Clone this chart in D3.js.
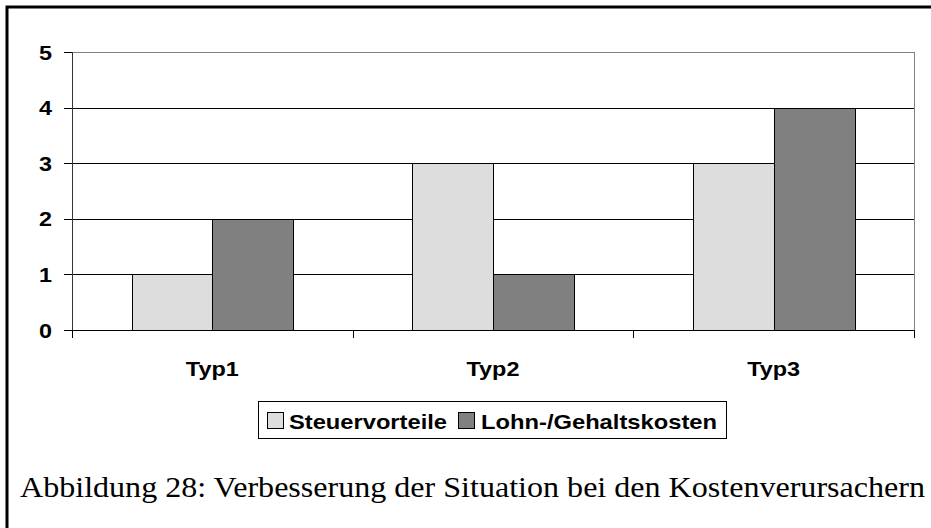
<!DOCTYPE html>
<html>
<head>
<meta charset="utf-8"/>
<title>Abbildung 28</title>
<script src="https://cdn.jsdelivr.net/npm/d3@7"></script>
<style>
	body { margin: 0; background: #fff; }
	svg text { font-family: Arial, "Liberation Sans", sans-serif; font-weight: bold; fill: #000; }
	svg text.caption { font-family: "Times New Roman", "Liberation Serif", Times, serif; font-weight: normal; }
</style>
</head>
<body>
<svg id="chart" width="931" height="528"></svg>
<script>
// chart data
var categories = ["Typ1", "Typ2", "Typ3"];
var seriesNames = ["Steuervorteile", "Lohn-/Gehaltskosten"];
var steuervorteile = [1, 3, 3];
var lohnkosten = [2, 1, 4];
var yTicks = [0, 1, 2, 3, 4, 5];
var caption = "Abbildung 28: Verbesserung der Situation bei den Kostenverursachern";

var colors = ["#dddddd", "#808080"];
var series = [steuervorteile, lohnkosten];

var svg = d3.select("#chart");

// outer frame (only top and left edges are in view)
svg.append("path")
	.attr("d", "M7,528V7H931")
	.attr("fill", "none")
	.attr("stroke", "#000")
	.attr("stroke-width", 3);

var plot = { left: 72, right: 914, top: 52, bottom: 330 };

var y = d3.scaleLinear().domain([0, 5]).range([plot.bottom, plot.top]);
var x = d3.scaleBand().domain(categories).range([plot.left, plot.right]);
var xs = d3.scaleBand().domain(d3.range(series.length)).range([0, x.bandwidth()]).paddingOuter(0.74);

// gridlines
svg.append("g").selectAll("line")
	.data(yTicks.filter(function(d) { return d > 0; }))
	.join("line")
	.attr("x1", plot.left).attr("x2", plot.right)
	.attr("y1", function(d) { return Math.round(y(d)) + 0.5; })
	.attr("y2", function(d) { return Math.round(y(d)) + 0.5; })
	.attr("stroke", function(d) { return d == 5 ? "#808080" : "#000"; });

// right border of plot area
svg.append("line")
	.attr("x1", plot.right + 0.5).attr("x2", plot.right + 0.5)
	.attr("y1", plot.top).attr("y2", plot.bottom)
	.attr("stroke", "#808080");

// bars
categories.forEach(function(c, i) {
	series.forEach(function(s, j) {
		svg.append("rect")
			.attr("x", Math.round(x(c) + xs(j)) + 0.5)
			.attr("y", Math.round(y(s[i])) + 0.5)
			.attr("width", Math.round(xs.bandwidth()))
			.attr("height", Math.round(y(0)) - Math.round(y(s[i])))
			.attr("fill", colors[j])
			.attr("stroke", "#000");
	});
});

// y axis
var yAxis = svg.append("g");
yAxis.append("line")
	.attr("x1", plot.left + 0.5).attr("x2", plot.left + 0.5)
	.attr("y1", plot.top).attr("y2", plot.bottom + 8)
	.attr("stroke", "#333");
yAxis.selectAll("line.tick")
	.data(yTicks)
	.join("line")
	.attr("class", "tick")
	.attr("x1", plot.left - 8).attr("x2", plot.left)
	.attr("y1", function(d) { return Math.round(y(d)) + 0.5; })
	.attr("y2", function(d) { return Math.round(y(d)) + 0.5; })
	.attr("stroke", "#000");
yAxis.selectAll("text")
	.data(yTicks)
	.join("text")
	.attr("x", 52)
	.attr("y", function(d) { return y(d) + 7.5; })
	.attr("text-anchor", "end")
	.attr("font-size", 20)
	.attr("textLength", 13)
	.attr("lengthAdjust", "spacingAndGlyphs")
	.text(function(d) { return d; });

// x axis
var xAxis = svg.append("g");
xAxis.append("line")
	.attr("x1", plot.left).attr("x2", plot.right)
	.attr("y1", Math.round(y(0)) + 0.5).attr("y2", Math.round(y(0)) + 0.5)
	.attr("stroke", "#000");
var bounds = categories.map(function(c) { return x(c); }).concat([plot.right]);
xAxis.selectAll("line.tick")
	.data(bounds)
	.join("line")
	.attr("class", "tick")
	.attr("x1", function(d) { return Math.round(d) + 0.5; })
	.attr("x2", function(d) { return Math.round(d) + 0.5; })
	.attr("y1", plot.bottom).attr("y2", plot.bottom + 8)
	.attr("stroke", "#000");
xAxis.selectAll("text")
	.data(categories)
	.join("text")
	.attr("x", function(d) { return x(d) + x.bandwidth() / 2; })
	.attr("y", 376)
	.attr("text-anchor", "middle")
	.attr("font-size", 21)
	.attr("textLength", 53)
	.attr("lengthAdjust", "spacingAndGlyphs")
	.text(function(d) { return d; });

// legend
var legend = svg.append("g");
legend.append("rect")
	.attr("x", 258.5).attr("y", 401.5)
	.attr("width", 468).attr("height", 37)
	.attr("fill", "#fff").attr("stroke", "#000");
var legendPos = [{ box: 267, text: 289, w: 158 }, { box: 458, text: 481, w: 236 }];
seriesNames.forEach(function(n, j) {
	legend.append("rect")
		.attr("x", legendPos[j].box + 0.5).attr("y", 412.5)
		.attr("width", 16).attr("height", 16)
		.attr("fill", colors[j]).attr("stroke", "#000");
	legend.append("text")
		.attr("x", legendPos[j].text)
		.attr("y", 428.5)
		.attr("font-size", 21)
		.attr("textLength", legendPos[j].w)
		.attr("lengthAdjust", "spacingAndGlyphs")
		.text(n);
});

// caption
svg.append("text")
	.attr("class", "caption")
	.attr("x", 20)
	.attr("y", 497)
	.attr("font-size", 30)
	.attr("textLength", 905)
	.attr("lengthAdjust", "spacingAndGlyphs")
	.text(caption);
</script>
</body>
</html>
